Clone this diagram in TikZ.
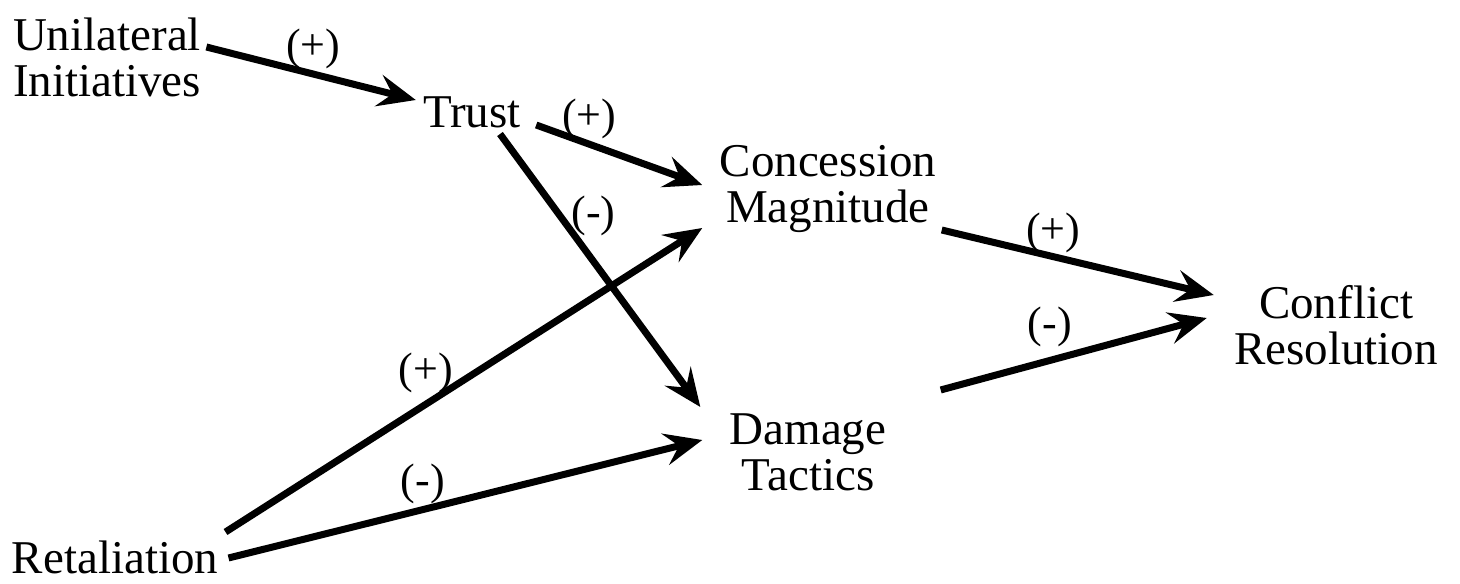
\documentclass[tikz,border=0pt]{standalone}
\usepackage{fontspec}
\setmainfont{Liberation Serif}
\usetikzlibrary{calc}
\usetikzlibrary{arrows.meta}

\begin{document}
\begin{tikzpicture}[x=0.5pt, y=-0.5pt,
		var/.style={inner sep=0pt, font=\fontsize{23.5}{23}\selectfont, align=center},
		sign/.style={inner sep=1pt, font=\fontsize{22}{22}\selectfont},
		link/.style={line width=3.5pt, -{Stealth[length=19pt, width=16pt, inset=7pt]}}]
				\useasboundingbox (0,0) rectangle (1460,583);
				\node[var, align=left] (U) at (107,57) {Unilateral\\Initiatives};
				\node[var] (T) at (472,112) {Trust};
				\node[var] (C) at (828,189) {Concession\\Magnitude};
				\node[var] (D) at (808,452) {Damage\\Tactics};
				\node[var] (R) at (1336,325) {Conflict\\Resolution};
				\node[var] (L) at (115,557) {Retaliation};
				
				\draw[link] ($(U.east)+(5,-10)$) -- ($(T.west)+(-7,-12)$) node[sign, pos=0.51, above] () {(+)};
				\draw[link] ($(T.east)+(15,13)$) -- ($(C.west)+(-17,-4)$) node[sign, pos=0.32, above] () {(+)};
				\draw[link] ($(T.south)+(28,6)$) -- ($(D.north west)+(-29,-6)$) node[sign, pos=0.3, right=3] () {(-)};
				\draw[link] ($(L.east)+(7,-25)$) -- ($(C.west)+(-17,39)$) node[sign, pos=0.42, above=3] () {(+)};
				\draw[link] ($(L.east)+(10,1)$) -- ($(D.west)+(-27,-12)$) node[sign, pos=0.41, above] () {(-)};
				\draw[link] ($(C.east)+(5,41)$) -- ($(R.west)+(-20,-30)$) node[sign, pos=0.41, above=-1] () {(+)};
				\draw[link] ($(D.north east)+(54,-23)$) -- ($(R.west)+(-27,-7)$) node[sign, pos=0.41, above=4] () {(-)};
			\end{tikzpicture}
\end{document}
